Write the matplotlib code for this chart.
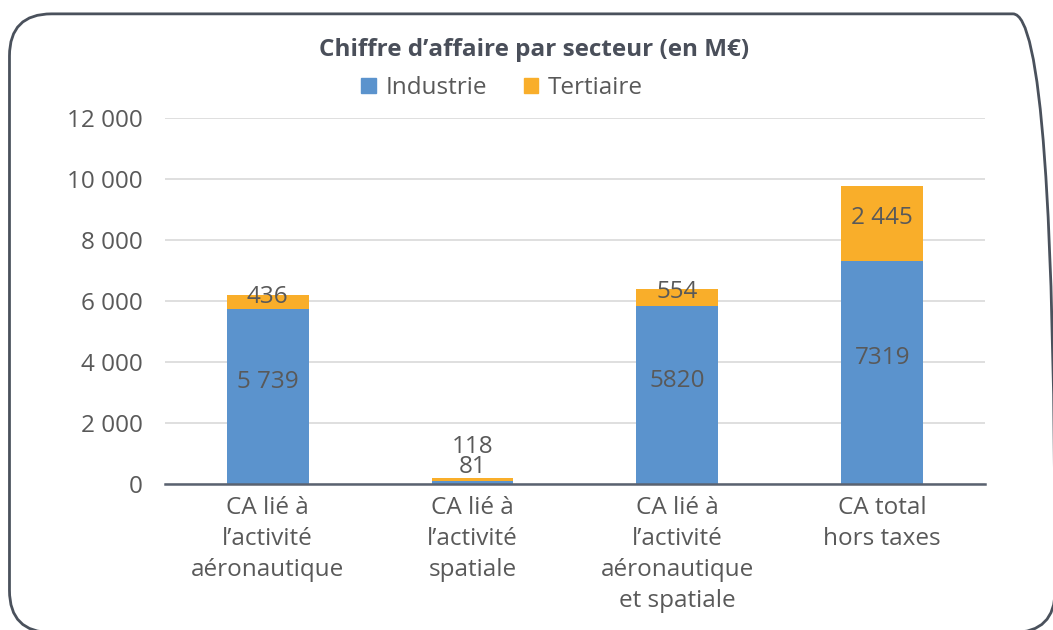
import matplotlib.pyplot as plt
from matplotlib.patches import FancyBboxPatch, Patch

# Chiffre d'affaire par secteur (M€)
categories = ["CA lié à\nl’activité\naéronautique",
              "CA lié à\nl’activité\nspatiale",
              "CA lié à\nl’activité\naéronautique\net spatiale",
              "CA total\nhors taxes"]
industrie = [5739, 81, 5820, 7319]
tertiaire = [436, 118, 554, 2445]
lab_industrie = ["5 739", "81", "5820", "7319"]
lab_tertiaire = ["436", "118", "554", "2 445"]
yticks = [0, 2000, 4000, 6000, 8000, 10000, 12000]
ytick_labels = ["0", "2 000", "4 000", "6 000", "8 000", "10 000", "12 000"]

BLUE = "#5b93cd"
ORANGE = "#f9ae2a"
TXT = "#595959"
FS = 17.5

plt.rcParams["font.family"] = ["Open Sans", "DejaVu Sans"]

fig = plt.figure(figsize=(10.53, 6.3), dpi=100)
ax = fig.add_axes([0.157, 0.232, 0.778, 0.581])

# cadre arrondi autour du graphique
frame = FancyBboxPatch((0.009, -0.004), 0.993, 0.982, boxstyle="round,pad=0,rounding_size=0.04",
                       transform=fig.transFigure, fill=False, edgecolor="#4a515c",
                       linewidth=2, mutation_aspect=1.67, clip_on=False)
fig.patches.append(frame)

x = range(len(categories))
ax.bar(x, industrie, width=0.4, color=BLUE, zorder=2)
ax.bar(x, tertiaire, width=0.4, bottom=industrie, color=ORANGE, zorder=2)

for i in x:
    top = industrie[i] + tertiaire[i]
    if top < 1000:
        ax.text(i, top + 350, lab_industrie[i], ha="center", va="center", fontsize=FS, color=TXT)
        ax.text(i, top + 1000, lab_tertiaire[i], ha="center", va="center", fontsize=FS, color=TXT)
    else:
        ax.annotate(lab_industrie[i], (i, industrie[i] / 2), xytext=(0, 10),
                    textcoords="offset points", ha="center", va="center", fontsize=FS, color=TXT)
        ax.annotate(lab_tertiaire[i], (i, industrie[i] + tertiaire[i] / 2), xytext=(0, 4),
                    textcoords="offset points", ha="center", va="center", fontsize=FS, color=TXT)

ax.set_xlim(-0.5, 3.5)
ax.set_ylim(0, 12000)
ax.set_yticks(yticks)
ax.set_yticklabels(ytick_labels)
ax.set_xticks(list(x))
ax.set_xticklabels(categories, linespacing=1.38)
ax.tick_params(axis="both", length=0, labelsize=FS, colors=TXT)
ax.tick_params(axis="y", pad=16)
ax.tick_params(axis="x", pad=9)
ax.grid(axis="y", color="#d9d9d9", linewidth=1.2, zorder=0)
for s in ["top", "right", "left"]:
    ax.spines[s].set_visible(False)
ax.spines["bottom"].set_color("#5a6270")
ax.spines["bottom"].set_linewidth(1.8)
ax.spines["bottom"].set_zorder(3)

fig.text(0.507, 0.92, "Chiffre d’affaire par secteur (en M€)", ha="center", va="center",
         fontsize=17.5, fontweight="bold", color="#4a4f5a")
handles = [Patch(color=BLUE, label="Industrie"), Patch(color=ORANGE, label="Tertiaire")]
fig.legend(handles=handles, loc="center", bbox_to_anchor=(0.477, 0.86), ncol=2, frameon=False,
           fontsize=FS, handlelength=0.6, handleheight=0.6, handletextpad=0.4, columnspacing=1.5,
           labelcolor=TXT)

fig.savefig("out.png", dpi=100)
